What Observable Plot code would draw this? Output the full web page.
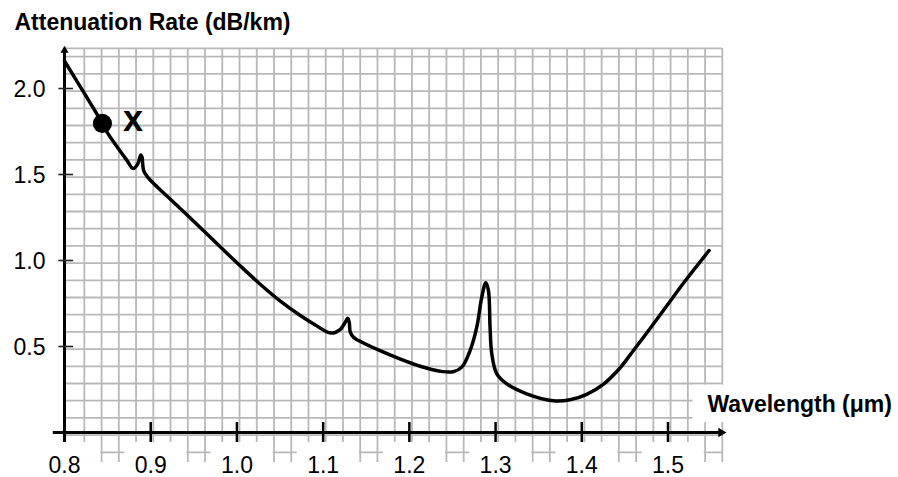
<!DOCTYPE html>
<html>
<head>
<meta charset="utf-8">
<script src="https://cdn.jsdelivr.net/npm/d3@7"></script>
<script src="https://cdn.jsdelivr.net/npm/@observablehq/plot@0.6"></script>
<style>
  html, body { margin: 0; padding: 0; background: white; }
  #chart svg { display: block; }
</style>
</head>
<body>
<div id="chart"></div>
<script>
// ---- data ----
const wavelength = [
  0.800, 0.822, 0.844, 0.8495, 0.8727, 0.8795, 0.8848, 0.8885, 0.8900, 0.8907, 0.8920, 0.8960, 0.9040,
  0.9228, 0.9498, 0.9770, 1.0040, 1.0270, 1.0500, 1.0735, 1.0900, 1.1090,
  1.1200, 1.1255, 1.1285, 1.1303, 1.1314, 1.1355, 1.1410, 1.1700, 1.1890,
  1.2125, 1.2357, 1.2507, 1.2608, 1.2705, 1.2782, 1.2840, 1.2886, 1.2917, 1.2936, 1.2956,
  1.3014, 1.3130, 1.3361, 1.3670, 1.3863, 1.4057, 1.4249, 1.4443, 1.4597, 1.4790, 1.4984, 1.5176, 1.5477
];
const attenuation = [
  2.160, 1.980, 1.797, 1.745, 1.580, 1.535, 1.560, 1.614, 1.600, 1.560, 1.520, 1.488, 1.445,
  1.356, 1.228, 1.097, 0.968, 0.862, 0.765, 0.680, 0.628, 0.578,
  0.600, 0.640, 0.664, 0.640, 0.585, 0.552, 0.535, 0.467, 0.428,
  0.385, 0.356, 0.353, 0.380, 0.477, 0.612, 0.787, 0.870, 0.826, 0.612, 0.458,
  0.341, 0.283, 0.225, 0.184, 0.190, 0.222, 0.280, 0.375, 0.475, 0.603, 0.735, 0.866, 1.058
];
const xTicks = [0.8, 0.9, 1.0, 1.1, 1.2, 1.3, 1.4, 1.5];
const xTickLabels = ["0.8", "0.9", "1.0", "1.1", "1.2", "1.3", "1.4", "1.5"];
const yTicks = [0.5, 1.0, 1.5, 2.0];
const yTickLabels = ["0.5", "1.0", "1.5", "2.0"];
const markerX = [0.844];
const markerY = [1.797];
const markerLabel = ["x"];
const titleText = ["Attenuation Rate (dB/km)"];
const xLabelText = ["Wavelength (\u03bcm)"];

// ---- helpers (graph-paper background) ----
const gridX = d3.range(1, 39).map(k => 0.803 + 0.02 * k);
const gridY = d3.range(-1, 23).map(k => 0.1 * k - 0.015).concat([2.233]);
const curveData = wavelength.map((x, i) => ({x, y: attenuation[i]}));
const markerData = markerX.map((x, i) => ({x, y: markerY[i], label: markerLabel[i]}));

const FONT = "'Liberation Sans', Arial, Helvetica, sans-serif";
const GRID = "#b8b8b8";

const chart = Plot.plot({
  width: 898,
  height: 477,
  marginLeft: 64,
  marginRight: 230.5,
  marginTop: 53.6,
  marginBottom: 45,
  style: {fontFamily: FONT, background: "white", overflow: "visible"},
  x: {domain: [0.8, 1.5], axis: null},
  y: {domain: [0, 2.2], axis: null},
  marks: [
    // graph paper
    Plot.ruleX(gridX, {x: d => d, y1: -0.175, y2: 2.233, stroke: GRID, strokeWidth: 1.8}),
    Plot.ruleY(gridY, {y: d => d, x1: 0.8, x2: 1.563, stroke: GRID, strokeWidth: 1.8}),
    // white backings behind labels
    Plot.rect(xTicks, {x1: d => d - 0.03, x2: d => d + 0.042, y1: -0.058, y2: -0.35, fill: "white"}),
    Plot.rect(xLabelText, {x1: 1.529, x2: 1.95, y1: 0.058, y2: 0.275, fill: "white"}),
    // axes
    Plot.ruleX([0.8], {x: d => d, y1: -0.058, y2: 2.222, stroke: "black", strokeWidth: 3}),
    Plot.dot([0.8], {x: d => d, y: 2.222, symbol: "triangle", r: 3, fill: "black", stroke: "none"}),
    Plot.ruleY([0], {y: d => d, x1: 0.787, x2: 1.561, stroke: "black", strokeWidth: 3}),
    Plot.dot([0], {x: 1.5615, y: d => d, symbol: "triangle", rotate: 90, r: 3.5, fill: "black", stroke: "none"}),
    Plot.ruleX(xTicks.slice(1), {x: d => d, y1: -0.058, y2: 0.058, stroke: "black", strokeWidth: 2.5}),
    Plot.ruleY(yTicks, {y: d => d, x1: 0.7935, x2: 0.8105, stroke: "#222", strokeWidth: 1.6}),
    // tick labels
    Plot.text(xTicks, {x: d => d, y: 0, text: (d, i) => xTickLabels[i], dy: 40, lineAnchor: "bottom",
      fontSize: 23, fill: "black"}),
    Plot.text(yTicks, {x: 0.8, y: d => d, text: (d, i) => yTickLabels[i], textAnchor: "end", dx: -19, dy: 8.2,
      lineAnchor: "bottom", fontSize: 23, fill: "black"}),
    // curve
    Plot.line(curveData, {x: "x", y: "y", curve: "catmull-rom", stroke: "black", strokeWidth: 3.5,
      strokeLinejoin: "round", strokeLinecap: "round"}),
    // marker
    Plot.dot(markerData, {x: "x", y: "y", r: 9.6, fill: "black", stroke: "none"}),
    Plot.text(markerData, {x: "x", y: "y", text: "label", dx: 30.5, dy: 7.7, lineAnchor: "bottom",
      fontSize: 36, fontWeight: "bold", fill: "black"}),
    // titles
    Plot.text(titleText, {frameAnchor: "top-left", text: d => d, dx: -50, dy: -23.6, textAnchor: "start",
      lineAnchor: "bottom", fontSize: 23, fontWeight: "bold", fill: "black"}),
    Plot.text(xLabelText, {frameAnchor: "bottom-right", text: d => d, dx: 39.5, dy: -20.3, textAnchor: "start",
      lineAnchor: "bottom", fontSize: 23, fontWeight: "bold", fill: "black"})
  ]
});
document.getElementById("chart").appendChild(chart);
</script>
</body>
</html>
